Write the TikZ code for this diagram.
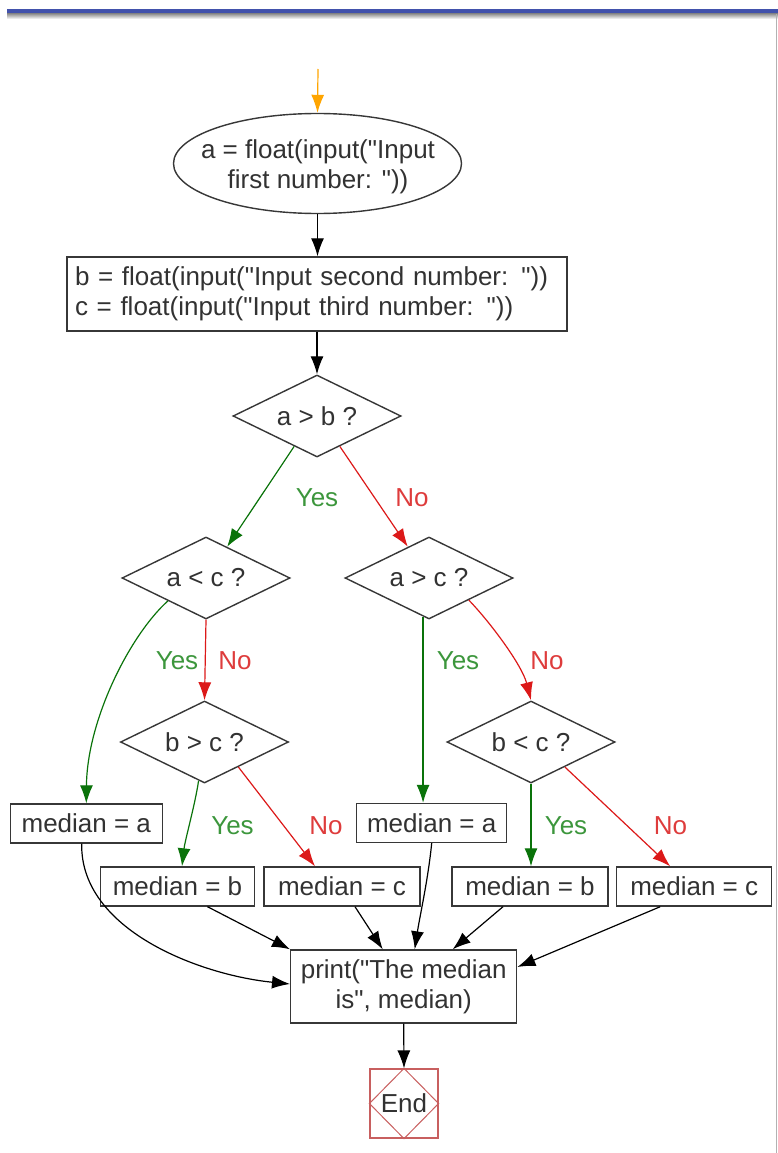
\documentclass[tikz,border=0pt]{standalone}
\usepackage{fontspec}
\setmainfont{Liberation Sans}[Ligatures=TeXOff]
\usetikzlibrary{arrows.meta,shapes.geometric,calc}
\definecolor{barblue}{RGB}{66,82,172}
\definecolor{boxc}{RGB}{55,55,55}
\definecolor{txtc}{RGB}{50,50,50}
\definecolor{yesc}{RGB}{10,115,10}
\definecolor{yestxt}{RGB}{60,150,60}
\definecolor{noc}{RGB}{220,25,25}
\definecolor{notxt}{RGB}{222,60,60}
\definecolor{orangec}{RGB}{255,165,0}
\definecolor{endc}{RGB}{200,95,95}
\begin{document}
\begin{tikzpicture}[x=1pt,y=1pt,
  font=\fontsize{26}{30}\selectfont,
  box/.style={rectangle, draw=boxc, line width=1.4pt, text=txtc, inner sep=0pt},
  dia/.style={diamond, aspect=2, draw=boxc, line width=1.4pt, text=txtc, inner sep=0pt,
              minimum width=168pt, minimum height=82pt},
  arr/.style={-{Latex[length=18pt,width=13pt]}, line width=1.2pt, draw=black},
  yesarr/.style={arr, draw=yesc},
  noarr/.style={arr, draw=noc},
  yeslab/.style={text=yestxt, inner sep=0pt},
  nolab/.style={text=notxt, inner sep=0pt},
  plain/.style={text=txtc, inner sep=0pt}
]
\useasboundingbox (0,0) rectangle (778,-1153);
% window frame
\fill[barblue] (7,-9) rectangle (778,-13.5);
\shade[top color=black!45, bottom color=white] (7,-13.5) rectangle (778,-19);
\draw[black!30, line width=1.2pt] (776.5,-14) -- (776.5,-1153);

% nodes
\node[ellipse, draw=boxc, line width=1.4pt, minimum width=288pt, minimum height=100pt, inner sep=0pt] (start) at (317.5,-163.5) {};
\node[plain, align=center] (starttxt) at (318,-167) {a = float(input("Input\\first number: "))};
\node[box, minimum width=500pt, minimum height=74pt, text width=484pt, align=left] (rect1) at (317,-294)
  {b = float(input("Input second number: "))\\c = float(input("Input third number: "))};
\node[dia] (d1) at (317,-416) {a > b ?};
\node[dia] (d2) at (206,-578) {a < c ?};
\node[dia] (d3) at (429,-578) {a > c ?};
\node[dia] (d4) at (204.5,-742) {b > c ?};
\node[dia] (d5) at (531,-742) {b < c ?};
\node[box, minimum width=152pt, minimum height=39pt] (ma1) at (86.3,-823.5) {median = a};
\node[box, minimum width=150pt, minimum height=39pt] (ma2) at (431.7,-823) {median = a};
\node[box, minimum width=154pt, minimum height=39pt] (mb1) at (177.5,-886.5) {median = b};
\node[box, minimum width=156pt, minimum height=39pt] (mc1) at (342,-886.5) {median = c};
\node[box, minimum width=156pt, minimum height=39pt] (mb2) at (530,-886.5) {median = b};
\node[box, minimum width=155pt, minimum height=39pt] (mc2) at (694.2,-886.5) {median = c};
\node[box, minimum width=226pt, minimum height=73pt, align=center] (print) at (403.7,-986.5)
  {print("The median\\is", median)};
\node[rectangle, draw=endc, line width=1.2pt, text=txtc, minimum width=68pt, minimum height=69pt, inner sep=0pt] (end) at (404,-1103.5) {End};
\draw[endc, line width=1pt] (end.north) -- (end.west) -- (end.south) -- (end.east) -- cycle;

% labels
\node[yeslab] (l1y) at (317,-498) {Yes};
\node[nolab] (l1n) at (412,-498) {No};
\node[yeslab] (l2y) at (177,-661) {Yes};
\node[nolab] (l2n) at (235,-661) {No};
\node[yeslab] (l3y) at (458,-661) {Yes};
\node[nolab] (l3n) at (547,-661) {No};
\node[yeslab] (l4y) at (232.5,-826) {Yes};
\node[nolab] (l4n) at (326,-826) {No};
\node[yeslab] (l5y) at (566,-826) {Yes};
\node[nolab] (l5n) at (670.5,-826) {No};

% connectors
\coordinate (entry) at (318,-69);
\draw[arr, draw=orangec] (entry) -- (start.north);
\draw[arr] (start.south) -- (start.south |- rect1.north);
\draw[arr] (rect1.south) -- (d1.north);

\draw[yesarr] ($(d1.south)!0.27!(d1.west)$) -- ($(d2.north)!0.25!(d2.east)$);
\draw[noarr] ($(d1.south)!0.27!(d1.east)$) -- ($(d3.north)!0.25!(d3.west)$);

\draw[yesarr] ($(d2.south)!0.45!(d2.west)$) .. controls (130,-635) and (87,-720) .. (ma1.north);
\draw[noarr] (d2.south) -- (d4.north);

\coordinate (d3y) at ($(d3.south)!0.07!(d3.west)$);
\draw[yesarr] (d3y) -- (d3y |- ma2.north);
\draw[noarr] ($(d3.south)!0.47!(d3.east)$) .. controls (490,-622) and (522,-665) .. (d5.north);

\draw[yesarr] ($(d4.south)!0.07!(d4.west)$) .. controls (195,-805) and (185,-840) .. ($(mb1.north)+(4.5,0)$);
\draw[noarr] ($(d4.south)!0.40!(d4.east)$) -- ($(mc1.north)+(-27,0)$);

\draw[yesarr] (d5.south) -- (d5.south |- mb2.north);
\draw[noarr] ($(d5.south)!0.40!(d5.east)$) -- ($(mc2.north)+(-24,0)$);

\draw[arr] ($(ma1.south)+(-4.6,0)$) .. controls (80,-930) and (200,-975) .. ($(print.west)+(0,2.5)$);
\draw[arr] ($(mb1.south)+(30,0)$) -- (print.north west);
\draw[arr] ($(mc1.south)+(13,0)$) -- ($(print.north)+(-21,0)$);
\draw[arr] (ma2.south) .. controls (428,-880) and (420,-915) .. ($(print.north)+(11,0)$);
\draw[arr] ($(mb2.south)+(-27,0)$) -- ($(print.north)+(49,0)$);
\draw[arr] ($(mc2.south)+(-34,0)$) -- ($(print.east)+(0,19.5)$);
\draw[arr] (print.south) -- (end.north);
\end{tikzpicture}
\end{document}
